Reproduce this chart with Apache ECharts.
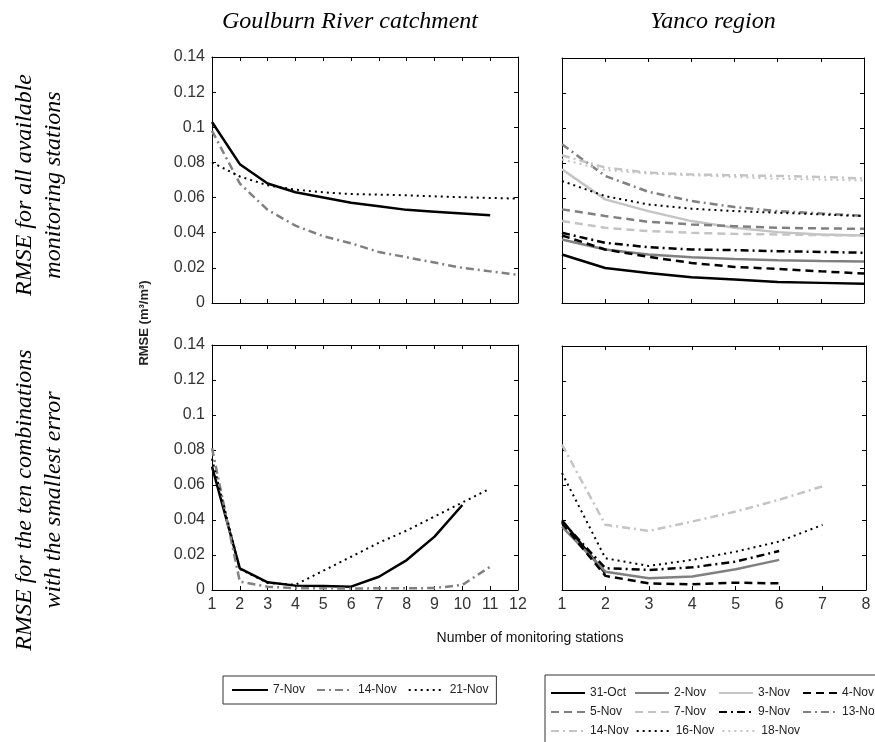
<!DOCTYPE html>
<html><head><meta charset="utf-8">
<script src="https://cdn.jsdelivr.net/npm/echarts@6/dist/echarts.min.js"></script>
<style>html,body{margin:0;padding:0;background:#fff}#c{width:875px;height:742px}</style>
</head><body><div id="c"></div>
<script>
// ---------- DATA ----------
const xGoulburn = [1,2,3,4,5,6,7,8,9,10,11,12];
const xYanco = [1,2,3,4,5,6,7,8];
const yTickLabels = ['0','0.02','0.04','0.06','0.08','0.1','0.12','0.14'];

// Goulburn River catchment - all available stations
const gAll_7Nov  = [0.103,0.079,0.068,0.063,0.060,0.057,0.055,0.053,0.052,0.051,0.050];
const gAll_14Nov = [0.098,0.068,0.053,0.044,0.038,0.034,0.029,0.026,0.023,0.020,0.018,0.016];
const gAll_21Nov = [0.080,0.072,0.067,0.0645,0.063,0.062,0.0617,0.0613,0.0607,0.0602,0.0598,0.0594];
// Goulburn - ten best combinations
const gBest_7Nov  = [0.0705,0.0124,0.0044,0.0025,0.0023,0.0019,0.0076,0.0171,0.0305,0.0486];
const gBest_14Nov = [0.081,0.0048,0.0019,0.0010,0.0010,0.0008,0.0010,0.0010,0.0011,0.0029,0.0133];
const gBest_21Nov = [0.075,0.012,0.004,0.003,0.011,0.019,0.027,0.034,0.042,0.050,0.058];

// Yanco region - all available stations
const yAll_31Oct = [0.0277,0.0200,0.0172,0.0147,0.0134,0.0120,0.0115,0.0110];
const yAll_2Nov  = [0.0363,0.0306,0.0277,0.0262,0.0252,0.0244,0.0240,0.0237];
const yAll_3Nov  = [0.0764,0.0592,0.0525,0.0468,0.0430,0.0405,0.0392,0.0386];
const yAll_4Nov  = [0.0386,0.0306,0.0264,0.0229,0.0206,0.0195,0.0181,0.0168];
const yAll_5Nov  = [0.0535,0.0497,0.0464,0.0449,0.0439,0.0430,0.0426,0.0424];
const yAll_7Nov  = [0.0468,0.0430,0.0411,0.0401,0.0395,0.0392,0.0388,0.0386];
const yAll_9Nov  = [0.0401,0.0344,0.0319,0.0306,0.0302,0.0296,0.0292,0.0287];
const yAll_13Nov = [0.0907,0.0726,0.0636,0.0583,0.0548,0.0525,0.0512,0.0497];
const yAll_14Nov = [0.0844,0.0774,0.0745,0.0735,0.0730,0.0726,0.0720,0.0712];
const yAll_16Nov = [0.0697,0.0611,0.0563,0.0539,0.0525,0.0516,0.0506,0.0497];
const yAll_18Nov = [0.0820,0.0760,0.0740,0.0730,0.0720,0.0710,0.0705,0.0700];
// Yanco - ten best combinations
const yBest_31Oct = [0.0400,0.0095];
const yBest_2Nov  = [0.0364,0.0105,0.0067,0.0077,0.0119,0.0173];
const yBest_4Nov  = [0.0384,0.0081,0.0038,0.0033,0.0042,0.0038];
const yBest_9Nov  = [0.0393,0.0125,0.0115,0.0130,0.0163,0.0224];
const yBest_14Nov = [0.0834,0.0374,0.0339,0.0393,0.0450,0.0518,0.0595];
const yBest_16Nov = [0.0671,0.0182,0.0138,0.0173,0.0220,0.0278,0.0374];

const goulburnLegend = ['7-Nov','14-Nov','21-Nov'];
const yancoLegend = ['31-Oct','2-Nov','3-Nov','4-Nov','5-Nov','7-Nov','9-Nov','13-Nov','14-Nov','16-Nov','18-Nov'];

// ---------- STYLES ----------
const BLACK='#000000', MID='#808080', LIGHT='#c4c4c4';
const SOLID='solid', DASH=[8,5], DASHDOT=[8,4,2,4], DOT=[2,4];
const st = {
  '7-Nov':  {c:BLACK, t:SOLID, w:2.5},
  '14-Nov': {c:MID, t:DASHDOT, w:2.5},
  '21-Nov': {c:BLACK, t:DOT, w:2},
  'Y 31-Oct': {c:BLACK, t:SOLID, w:2.5},
  'Y 2-Nov':  {c:MID, t:SOLID, w:2.5},
  'Y 3-Nov':  {c:LIGHT, t:SOLID, w:2.5},
  'Y 4-Nov':  {c:BLACK, t:DASH, w:2.5},
  'Y 5-Nov':  {c:MID, t:DASH, w:2.5},
  'Y 7-Nov':  {c:LIGHT, t:DASH, w:2.5},
  'Y 9-Nov':  {c:BLACK, t:DASHDOT, w:2.5},
  'Y 13-Nov': {c:MID, t:DASHDOT, w:2.5},
  'Y 14-Nov': {c:LIGHT, t:DASHDOT, w:2.5},
  'Y 16-Nov': {c:BLACK, t:DOT, w:2},
  'Y 18-Nov': {c:LIGHT, t:DOT, w:2}
};

function mk(name, xs, vals, gi){
  const s = st[name];
  return {
    type:'line', name, xAxisIndex:gi, yAxisIndex:gi,
    data: vals.map((v,i)=>[xs[i], v]),
    symbol:'none', smooth:false, silent:true, animation:false,
    lineStyle:{color:s.c, type:s.t, width:s.w, cap:'butt'},
    itemStyle:{color:s.c}
  };
}

const grids = [
  {left:212, top:57, width:306, height:246},
  {left:562, top:58, width:302, height:245},
  {left:212, top:345, width:306, height:245},
  {left:562, top:346, width:304, height:244}
];
const xMax = [12, 8, 12, 8];

const FONT = 'Liberation Sans';
function xAx(gi, pos, showLabel){
  return {type:'value', gridIndex:gi, min:1, max:xMax[gi], interval:1, position:pos,
    axisLine:{show:true, onZero:false, lineStyle:{color:'#000', width:1}},
    axisTick:{show:true, inside:true, length:4, lineStyle:{color:'#000'}},
    axisLabel:{show:showLabel, margin:7, fontSize:16, color:'#333', fontFamily:FONT, showMinLabel:true, showMaxLabel:true},
    splitLine:{show:false}};
}
function yAx(gi, pos, showLabel){
  return {type:'value', gridIndex:gi, min:0, max:0.14, interval:0.02, position:pos,
    axisLine:{show:true, onZero:false, lineStyle:{color:'#000', width:1}},
    axisTick:{show:true, inside:true, length:4, lineStyle:{color:'#000'}},
    axisLabel:{show:showLabel, margin:7, fontSize:16, color:'#333', fontFamily:FONT,
      showMinLabel:true, showMaxLabel:true,
      formatter:(v)=>yTickLabels[Math.round(v/0.02)]},
    splitLine:{show:false}};
}

const xAxes = [], yAxes = [];
for (let g=0; g<4; g++){ xAxes.push(xAx(g,'bottom', g>=2)); }
for (let g=0; g<4; g++){ xAxes.push(xAx(g,'top', false)); }
for (let g=0; g<4; g++){ yAxes.push(yAx(g,'left', g===0||g===2)); }
for (let g=0; g<4; g++){ yAxes.push(yAx(g,'right', false)); }

const series = [
  mk('7-Nov', xGoulburn, gAll_7Nov, 0),
  mk('14-Nov', xGoulburn, gAll_14Nov, 0),
  mk('21-Nov', xGoulburn, gAll_21Nov, 0),
  mk('7-Nov', xGoulburn, gBest_7Nov, 2),
  mk('14-Nov', xGoulburn, gBest_14Nov, 2),
  mk('21-Nov', xGoulburn, gBest_21Nov, 2),
  mk('Y 31-Oct', xYanco, yAll_31Oct, 1),
  mk('Y 2-Nov', xYanco, yAll_2Nov, 1),
  mk('Y 3-Nov', xYanco, yAll_3Nov, 1),
  mk('Y 4-Nov', xYanco, yAll_4Nov, 1),
  mk('Y 5-Nov', xYanco, yAll_5Nov, 1),
  mk('Y 7-Nov', xYanco, yAll_7Nov, 1),
  mk('Y 9-Nov', xYanco, yAll_9Nov, 1),
  mk('Y 13-Nov', xYanco, yAll_13Nov, 1),
  mk('Y 14-Nov', xYanco, yAll_14Nov, 1),
  mk('Y 16-Nov', xYanco, yAll_16Nov, 1),
  mk('Y 18-Nov', xYanco, yAll_18Nov, 1),
  mk('Y 31-Oct', xYanco, yBest_31Oct, 3),
  mk('Y 2-Nov', xYanco, yBest_2Nov, 3),
  mk('Y 4-Nov', xYanco, yBest_4Nov, 3),
  mk('Y 9-Nov', xYanco, yBest_9Nov, 3),
  mk('Y 14-Nov', xYanco, yBest_14Nov, 3),
  mk('Y 16-Nov', xYanco, yBest_16Nov, 3)
];

const serif = '"Liberation Serif", "Times New Roman", serif';
const hiddenSymbol = {color:'transparent', borderColor:'transparent', borderWidth:0, opacity:0};
const option = {
  backgroundColor:'#fff',
  animation:false,
  grid: grids,
  xAxis: xAxes,
  yAxis: yAxes,
  series,
  legend: [
    {data: goulburnLegend, left:223, top:676, itemWidth:36, itemHeight:12, itemGap:11,
     padding:[8,8,8,8], borderColor:'#333', borderWidth:1, selectedMode:false,
     itemStyle: hiddenSymbol,
     textStyle:{fontSize:12, color:'#222', fontFamily:FONT}},
    {data: yancoLegend.map(n=>'Y '+n), left:545, top:675, width:340, itemWidth:34, itemHeight:12, itemGap:7,
     padding:[12,5,8,5], borderColor:'#333', borderWidth:1, selectedMode:false,
     itemStyle: hiddenSymbol,
     formatter:(n)=>'{a|'+n.replace(/^Y /,'')+'}',
     textStyle:{fontSize:12, color:'#222', fontFamily:FONT,
       rich:{a:{width:37, fontSize:12, lineHeight:12, color:'#222', fontFamily:FONT}}}}
  ],
  graphic: [
    {type:'text', x:350, y:22, style:{text:'Goulburn River catchment', font:'italic 24px '+serif, fill:'#000', textAlign:'center', textVerticalAlign:'middle'}},
    {type:'text', x:713, y:22, style:{text:'Yanco region', font:'italic 24px '+serif, fill:'#000', textAlign:'center', textVerticalAlign:'middle'}},
    {type:'text', x:39, y:185, rotation:Math.PI/2, style:{text:'RMSE for all available\nmonitoring stations', font:'italic 24px '+serif, lineHeight:29, fill:'#000', textAlign:'center', textVerticalAlign:'middle'}},
    {type:'text', x:39, y:500, rotation:Math.PI/2, style:{text:'RMSE for the ten combinations\nwith the smallest error', font:'italic 24px '+serif, lineHeight:29, fill:'#000', textAlign:'center', textVerticalAlign:'middle'}},
    {type:'text', x:144, y:323, rotation:Math.PI/2, style:{text:'RMSE (m³/m³)', font:'bold 13px "Liberation Sans"', fill:'#222', textAlign:'center', textVerticalAlign:'middle'}},
    {type:'text', x:530, y:638, style:{text:'Number of monitoring stations', font:'14px "Liberation Sans"', fill:'#111', textAlign:'center', textVerticalAlign:'middle'}}
  ]
};
const chart = echarts.init(document.getElementById('c'), null, {renderer:'canvas'});
chart.setOption(option);
</script>
</body></html>
